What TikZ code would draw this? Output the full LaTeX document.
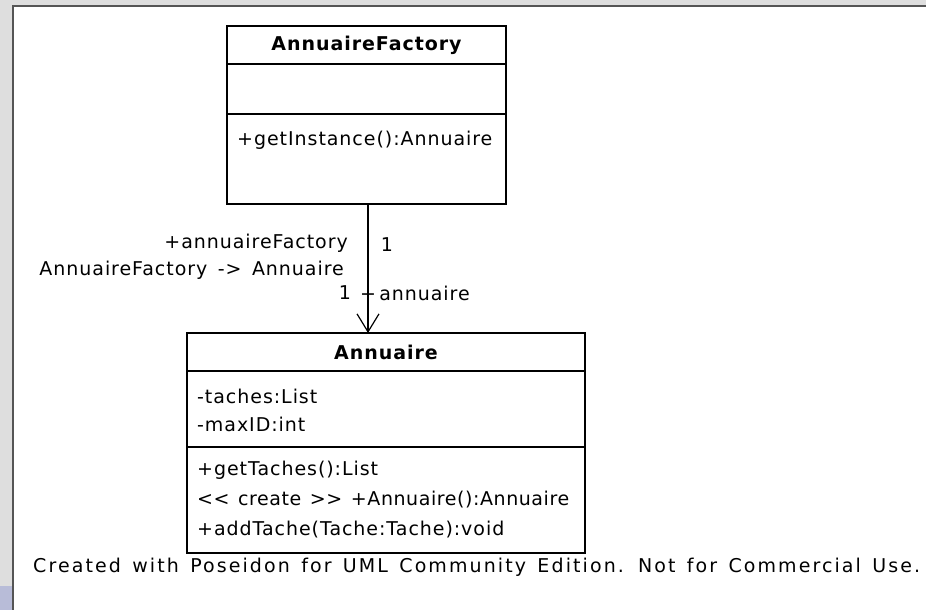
\documentclass[tikz,border=0pt]{standalone}
\usepackage{fontspec}
\setmainfont{DejaVu Sans}[LetterSpace=5,WordSpace=1.5]
\newfontfamily\footfont{DejaVu Sans}[LetterSpace=11,WordSpace=1.4]
\newfontfamily\tightfont{DejaVu Sans}[LetterSpace=3,WordSpace=1.3]
\usetikzlibrary{arrows.meta}
\definecolor{bggray}{HTML}{DEDEDE}
\definecolor{edgegray}{HTML}{555555}
\definecolor{bluepatch}{HTML}{B8BCD8}
\tikzset{
  umlbox/.style={draw=black, line width=1.2pt, fill=white, inner sep=0pt},
  txt/.style={inner sep=0pt, font=\fontsize{19}{22}\selectfont, anchor=west},
  ttl/.style={inner sep=0pt, font=\fontsize{19}{22}\selectfont\bfseries},
  lbl/.style={inner sep=0pt, font=\fontsize{19}{22}\selectfont},
  foottxt/.style={inner sep=0pt, font=\fontsize{19}{22}\footfont, anchor=west},
  sep/.style={draw=black, line width=1.2pt},
  assoc/.style={draw=black, line width=1.2pt, -{Straight Barb[length=18pt,width=22pt,line width=1.2pt]}}
}
\begin{document}
\begin{tikzpicture}[x=1pt,y=-1pt]
\useasboundingbox (0,0) rectangle (926,610);
% background
\fill[bggray] (0,0) rectangle (926,610);
\fill[bluepatch] (0,586) rectangle (13,610);
\fill[white] (13,6) rectangle (926,610);
\draw[edgegray, line width=1.5pt] (13,610) -- (13,6) -- (926,6);
% AnnuaireFactory
\node[umlbox, minimum width=279pt, minimum height=178pt] (fac) at (366.5,115) {};
\draw[sep] (227,64) -- (506,64);
\draw[sep] (227,114) -- (506,114);
\node[ttl] (factitle) at (366.5,45) {AnnuaireFactory};
\node[txt] (facm) at (237,140) {+getInstance():Annuaire};
% Annuaire
\node[umlbox, minimum width=398pt, minimum height=220pt] (ann) at (386,443) {};
\draw[sep] (187,371) -- (585,371);
\draw[sep] (187,447) -- (585,447);
\node[ttl] (anntitle) at (386,352) {Annuaire};
\node[txt] (a1) at (197,396) {-taches:List};
\node[txt] (a2) at (197,424) {-maxID:int};
\node[txt] (m1) at (197,470) {+getTaches():List};
\node[txt, font=\fontsize{19}{22}\tightfont] (m2) at (197,500) {<{}< create >{}> +Annuaire():Annuaire};
\node[txt] (m3) at (197,530) {+addTache(Tache:Tache):void};
% association
\coordinate (s) at (368,204);
\coordinate (e) at (368,333);
\draw[assoc] (s) -- (e);
\node[lbl, anchor=east] (r1) at (348,243) {+annuaireFactory};
\node[lbl, anchor=east] (r2) at (344,270) {AnnuaireFactory -> Annuaire};
\node[lbl] (m1l) at (387,245) {1};
\node[lbl] (m2l) at (345,293) {1};
\node[lbl, anchor=west] (r3) at (360,293) {+\,annuaire};
% footer
\node[foottxt] (foot) at (33,567) {Created with Poseidon for UML Community Edition. Not for Commercial Use.};
\end{tikzpicture}
\end{document}
